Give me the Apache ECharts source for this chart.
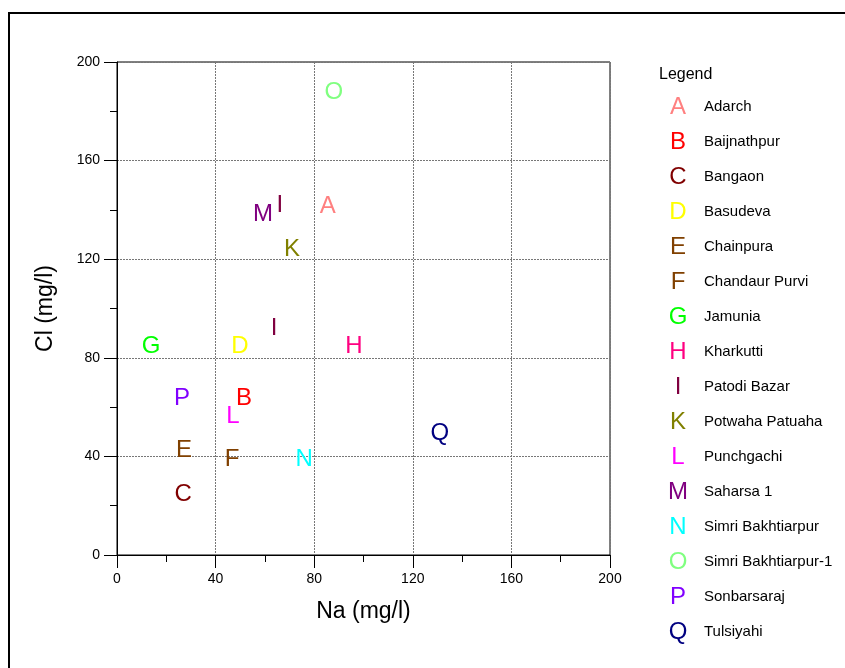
<!DOCTYPE html>
<html>
<head>
<meta charset="utf-8">
<script src="https://cdn.jsdelivr.net/npm/echarts@6/dist/echarts.min.js"></script>
<style>
  html, body { margin: 0; padding: 0; background: #fff; overflow: hidden; }
  #chart { position: absolute; left: 0; top: 0; width: 845px; height: 668px; }
  #frame { position: absolute; left: 8px; top: 12px; width: 900px; height: 700px;
           border: 2px solid #000; pointer-events: none; }
</style>
</head>
<body>
<div id="chart"></div>
<div id="frame"></div>
<script>
// stations (legend order) and their plotting letters
const stations = ["Adarch", "Baijnathpur", "Bangaon", "Basudeva", "Chainpura", "Chandaur Purvi",
  "Jamunia", "Kharkutti", "Patodi Bazar", "Potwaha Patuaha", "Punchgachi", "Saharsa 1",
  "Simri Bakhtiarpur", "Simri Bakhtiarpur-1", "Sonbarsaraj", "Tulsiyahi"];
const letters = ["A", "B", "C", "D", "E", "F", "G", "H", "I", "K", "L", "M", "N", "O", "P", "Q"];
const letterColors = ["#ff8080", "#ff0000", "#800000", "#ffff00", "#804000", "#804000",
  "#00ff00", "#ff0080", "#800040", "#808000", "#ff00ff", "#800080",
  "#00ffff", "#80ff80", "#8000ff", "#000080"];

// samples: station index, Na (mg/l), Cl (mg/l)
const sampleStation = [0, 1, 2, 3, 4, 5, 6, 7, 8, 8, 9, 10, 11, 12, 13, 14, 15];
const naValues = [85.5, 51.5, 26.8, 49.9, 27.2, 46.7, 13.8, 96.1, 66.1, 63.7, 71, 47, 59.2, 75.9, 88, 26.4, 131];
const clValues = [141.5, 63.7, 24.7, 84.5, 42.6, 38.9, 84.5, 84.5, 141.8, 92.1, 124, 56.4, 138.3, 38.9, 187.8, 63.7, 49.5];

const xTicks = [0, 40, 80, 120, 160, 200];
const yTicks = [0, 40, 80, 120, 160, 200];

const font = "'Liberation Sans', Arial, sans-serif";

let series = [];
for (let s = 0; s < stations.length; s++) {
  let pts = [];
  for (let i = 0; i < sampleStation.length; i++) {
    if (sampleStation[i] === s) pts.push([naValues[i], clValues[i]]);
  }
  series.push({
    name: stations[s],
    type: "scatter",
    symbol: "circle",
    symbolSize: 0.1,
    itemStyle: { color: "transparent", opacity: 1 },
    label: {
      show: true,
      position: "inside",
      formatter: letters[s],
      color: letterColors[s],
      opacity: 1,
      fontSize: 24,
      fontFamily: font
    },
    emphasis: { disabled: true },
    data: pts
  });
}

let rich = { nm: { fontSize: 15, color: "#000", fontFamily: font, padding: [0, 0, 0, 6] } };
for (let s = 0; s < letters.length; s++) {
  rich["c" + s] = { fontSize: 24, color: letterColors[s], fontFamily: font, width: 40, align: "center" };
}

let axisCommon = {
  type: "value",
  min: 0,
  max: 200,
  interval: 40,
  axisLine: { show: true, onZero: false, lineStyle: { color: "#000", width: 1 } },
  axisTick: { show: true, length: 13, lineStyle: { color: "#000" } },
  minorTick: { show: true, splitNumber: 2, length: 7, lineStyle: { color: "#000" } },
  splitLine: { show: true, lineStyle: { color: "#777", type: [2, 1], width: 1 } },
  nameLocation: "middle",
  nameTextStyle: { fontSize: 23, color: "#000", fontFamily: font }
};

let myChart = echarts.init(document.getElementById("chart"), null, { renderer: "canvas" });
let option = {
  animation: false,
  backgroundColor: "#fff",
  title: {
    text: "Legend",
    left: 654,
    top: 62,
    textStyle: { fontSize: 16, fontWeight: "normal", color: "#000", fontFamily: font }
  },
  legend: {
    orient: "vertical",
    left: 648,
    top: 90,
    itemWidth: 0,
    itemHeight: 0,
    itemGap: 11,
    selectedMode: false,
    data: stations,
    formatter: function (name) {
      let s = stations.indexOf(name);
      return "{c" + s + "|" + letters[s] + "}{nm|" + name + "}";
    },
    textStyle: { rich: rich }
  },
  grid: {
    left: 117,
    right: 235,
    top: 62,
    bottom: 113,
    show: true,
    borderColor: "#000",
    borderWidth: 1,
    backgroundColor: "transparent"
  },
  xAxis: Object.assign({}, axisCommon, {
    name: "Na (mg/l)",
    nameGap: 45,
    axisLabel: {
      margin: 17,
      fontSize: 14,
      color: "#000",
      fontFamily: font,
      formatter: function (v) { return xTicks.indexOf(v) >= 0 ? String(v) : ""; }
    }
  }),
  yAxis: Object.assign({}, axisCommon, {
    name: "Cl (mg/l)",
    nameGap: 60,
    axisLabel: {
      margin: 17,
      fontSize: 14,
      color: "#000",
      fontFamily: font,
      formatter: function (v) { return yTicks.indexOf(v) >= 0 ? String(v) : ""; }
    }
  }),
  series: series
};
myChart.setOption(option, true);
</script>
</body>
</html>
